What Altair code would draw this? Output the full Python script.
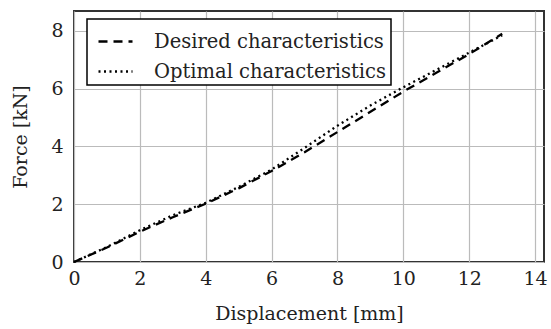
import altair as alt
import pandas as pd

x_vals = [0, 1, 2, 3, 4, 5, 6, 7, 8, 9, 10, 11, 12, 13]
desired = [0, 0.5, 1.05, 1.55, 2.02, 2.55, 3.15, 3.8, 4.5, 5.2, 5.9, 6.55, 7.2, 7.9]
optimal = [0, 0.52, 1.1, 1.62, 2.05, 2.6, 3.2, 3.95, 4.72, 5.42, 6.05, 6.65, 7.25, 7.85]
series_names = ["Desired characteristics", "Optimal characteristics"]

rows = []
for xv, d in zip(x_vals, desired):
    rows.append({"x": xv, "y": d, "s": series_names[0]})
for xv, o in zip(x_vals, optimal):
    rows.append({"x": xv, "y": o, "s": series_names[1]})
df = pd.DataFrame(rows)

FONT = "DejaVu Serif"

chart = alt.Chart(df).mark_line(color="black", strokeWidth=2.3).encode(
    x=alt.X("x:Q", scale=alt.Scale(domain=[0, 14.27], nice=False),
            axis=alt.Axis(values=[0, 2, 4, 6, 8, 10, 12, 14], title="Displacement [mm]",
                          titlePadding=16)),
    y=alt.Y("y:Q", scale=alt.Scale(domain=[0, 8.69], nice=False),
            axis=alt.Axis(values=[0, 2, 4, 6, 8], title="Force [kN]", titlePadding=20)),
    strokeDash=alt.StrokeDash("s:N",
        scale=alt.Scale(domain=series_names, range=[[9, 6], [2, 3.5]]),
        legend=alt.Legend(title=None, orient="none", legendX=13, legendY=8,
                          symbolType="stroke", symbolSize=1156, symbolStrokeWidth=2.3,
                          symbolStrokeColor="black", symbolOffset=6,
                          labelFont=FONT, labelFontSize=19.5, labelColor="#222",
                          labelOffset=20, rowPadding=2, labelLimit=0,
                          padding=4, strokeColor="black", fillColor="white")),
    order="x:Q",
).properties(
    width=470, height=251,
    autosize=alt.AutoSizeParams(type="none"),
    padding={"left": 74, "top": 11, "right": 7, "bottom": 67},
).configure_view(
    stroke="#333", strokeWidth=2
).configure_axis(
    grid=True, gridColor="#bbb", gridWidth=1.2,
    domain=False, ticks=False, labelFlush=False,
    labelFont=FONT, labelFontSize=19, labelColor="#222",
    titleFont=FONT, titleFontSize=19, titleFontWeight="normal", titleColor="#222",
).configure_axisX(
    labelPadding=7
).configure_axisY(
    labelPadding=11
).configure_legend(
    strokeWidth=1.5
)

chart.save("out.html", embed_options={"renderer": "svg", "actions": False})
